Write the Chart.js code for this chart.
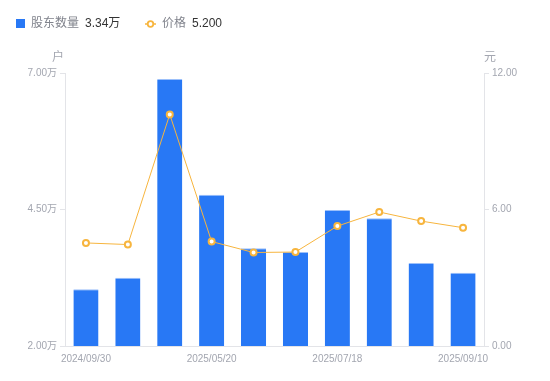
<!DOCTYPE html>
<html><head><meta charset="utf-8">
<script src="https://cdn.jsdelivr.net/npm/chart.js@4/dist/chart.umd.min.js"></script>
<style>html,body{margin:0;padding:0;background:#fff;}#wrap{width:550px;height:381px;position:relative;}</style>
</head><body><div id="wrap"><canvas id="c" width="550" height="381"></canvas></div>
<script>
const categories = ['2024/09/30','2024/12/31','2025/03/31','2025/05/20','2025/06/10','2025/06/30','2025/07/18','2025/07/31','2025/08/20','2025/09/10'];
const holders = [3.04, 3.25, 6.89, 4.77, 3.79, 3.72, 4.49, 4.34, 3.52, 3.34];
const prices = [4.53, 4.46, 10.18, 4.59, 4.11, 4.13, 5.27, 5.89, 5.49, 5.20];
const leftTicks = [2.0, 4.5, 7.0];
const rightTicks = [0, 6, 12];

const FONT = '"Liberation Sans", "Noto Sans CJK SC", sans-serif';
const GRAY = '#a3a6b0';
const BLUE = '#2878f5';
const ORANGE = '#f7b53e';

const overlay = {
  id: 'overlay',
  afterDraw(chart) {
    const ctx = chart.ctx;
    ctx.save();
    ctx.textBaseline = 'middle';
    // legend
    ctx.fillStyle = BLUE;
    ctx.fillRect(16, 19, 9, 9);
    ctx.font = '12px ' + FONT;
    ctx.textAlign = 'left';
    ctx.fillStyle = '#80838c';
    ctx.fillText('股东数量', 31, 24);
    ctx.fillStyle = '#333';
    ctx.fillText(holders[holders.length-1].toFixed(2) + '万', 85, 24);
    ctx.strokeStyle = ORANGE; ctx.lineWidth = 1.5;
    ctx.beginPath(); ctx.moveTo(145, 24); ctx.lineTo(156, 24); ctx.stroke();
    ctx.beginPath(); ctx.arc(150.5, 24, 2.8, 0, Math.PI*2); ctx.fillStyle = '#fff'; ctx.fill(); ctx.lineWidth = 1.8; ctx.stroke();
    ctx.fillStyle = '#80838c';
    ctx.fillText('价格', 162, 24);
    ctx.fillStyle = '#333';
    ctx.fillText(prices[prices.length-1].toFixed(3), 192, 24);
    // axis titles
    ctx.font = '12px ' + FONT;
    ctx.fillStyle = GRAY;
    ctx.textAlign = 'center';
    const yl = chart.scales.y, yr = chart.scales.y1;
    ctx.fillText('户', yl.right - 7, yl.top - 15);
    ctx.fillText('元', yr.left + 6, yr.top - 15);
    ctx.restore();
  }
};

new Chart(document.getElementById('c'), {
  data: {
    labels: categories,
    datasets: [
      { type: 'line', label: '价格', data: prices, yAxisID: 'y1', borderColor: ORANGE, borderWidth: 1,
        pointRadius: 3, pointBorderWidth: 2, pointBackgroundColor: '#fff', pointBorderColor: ORANGE, tension: 0, order: 0 },
      { type: 'bar', label: '股东数量', data: holders, yAxisID: 'y', backgroundColor: BLUE, borderColor: '#9cc0fa',
        borderWidth: {top: 1, left: 0, right: 0, bottom: 0}, barPercentage: 0.6, categoryPercentage: 1.0, order: 1 }
    ]
  },
  options: {
    responsive: false, animation: false,
    devicePixelRatio: 1,
    layout: { padding: { top: 73, left: 0, right: 0, bottom: 0 } },
    plugins: { legend: { display: false }, tooltip: { enabled: false } },
    scales: {
      x: {
        offset: true,
        grid: { display: false, drawTicks: false },
        border: { display: true, color: '#e3e4e8' },
        ticks: { autoSkip: false, maxRotation: 0, color: GRAY, font: { size: 10, family: FONT }, padding: 7,
          callback: function(v, i) { return i % 3 === 0 ? categories[i] : ''; } },
        afterFit(s) { s.height = 35; }
      },
      y: {
        position: 'left', min: 2, max: 7,
        afterBuildTicks(s) { s.ticks = leftTicks.map(v => ({ value: v })); },
        grid: { drawOnChartArea: false, tickLength: 5, color: '#e3e4e8' },
        border: { color: '#e3e4e8' },
        ticks: { color: GRAY, font: { size: 10, family: FONT }, padding: 3, callback: v => v.toFixed(2) + '万' },
        afterFit(s) { s.width = 65; }
      },
      y1: {
        position: 'right', min: 0, max: 12,
        afterBuildTicks(s) { s.ticks = rightTicks.map(v => ({ value: v })); },
        grid: { drawOnChartArea: false, tickLength: 5, color: '#e3e4e8' },
        border: { color: '#e3e4e8' },
        ticks: { color: GRAY, font: { size: 10, family: FONT }, padding: 3, callback: v => v.toFixed(2) },
        afterFit(s) { s.width = 66; }
      }
    }
  },
  plugins: [overlay]
});
</script>
</body></html>
